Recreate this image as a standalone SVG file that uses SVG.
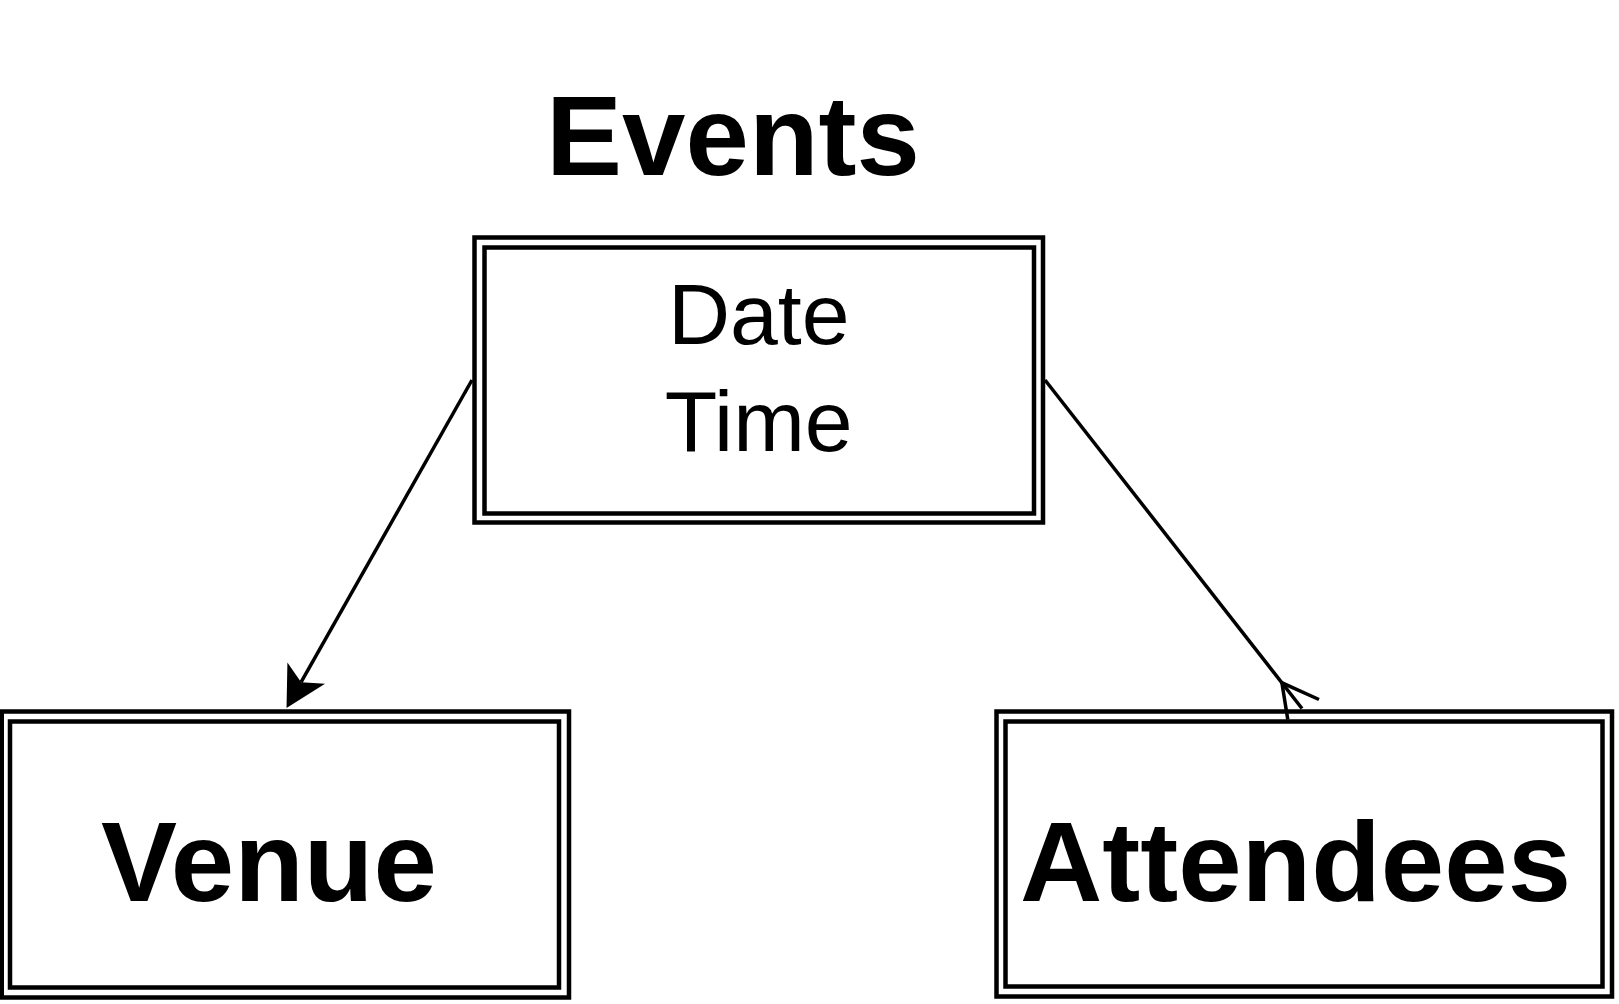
<svg xmlns="http://www.w3.org/2000/svg" width="1619" height="1004" viewBox="0 0 1619 1004">
<style>
.box{fill:none;stroke:#000;stroke-width:4.5}
.edge{fill:none;stroke:#000;stroke-width:3.5}
.big{font-family:"Liberation Sans",Arial,sans-serif;font-weight:bold;font-size:114px;fill:#000;text-anchor:middle}
.attr{font-family:"Liberation Sans",Arial,sans-serif;font-size:86px;fill:#000;text-anchor:middle}
</style>
<defs>
<marker id="arrow" markerUnits="userSpaceOnUse" viewBox="-12 -23 43 46" refX="0" refY="0" markerWidth="43" markerHeight="46" orient="auto" overflow="visible">
<path d="M29.6,0 L-10.4,-21.6 L0,0 L-10.4,21.6 Z" fill="#000" stroke="none"/>
</marker>
</defs>
<rect width="1619" height="1004" fill="#fff"/>
<g id="events">
<text class="big" x="733" y="174.5">Events</text>
<rect class="box" x="474.5" y="237.5" width="568.5" height="285"/>
<rect class="box" x="484.5" y="247.5" width="549.5" height="266"/>
<text class="attr" x="758.75" y="344">Date</text>
<text class="attr" x="758.75" y="451">Time</text>
</g>
<g id="venue">
<rect class="box" x="1.75" y="711.5" width="567.25" height="286"/>
<rect class="box" x="10" y="721.5" width="549" height="266"/>
<text class="big" x="269" y="901">Venue</text>
</g>
<g id="attendees">
<rect class="box" x="996.5" y="711.5" width="615.5" height="285"/>
<rect class="box" x="1005.5" y="721.5" width="597" height="265"/>
<text class="big" x="1295.5" y="901">Attendees</text>
</g>
<g id="connectors">
<line class="edge" x1="472" y1="380" x2="301.1" y2="682.2" marker-end="url(#arrow)"/>
<line class="edge" x1="1045" y1="380" x2="1302" y2="708.5"/>
<polyline class="edge" points="1319,699.5 1281.9,682.8 1287.8,719.6"/>
</g>
</svg>
